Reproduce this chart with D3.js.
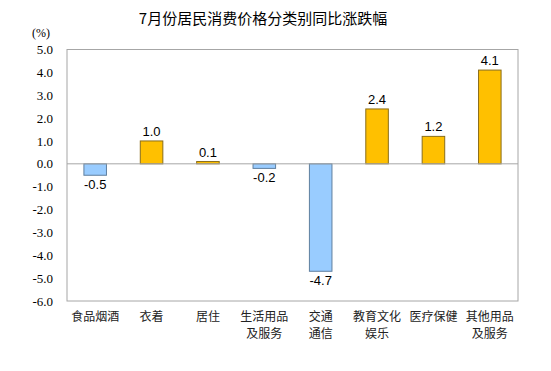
<!DOCTYPE html>
<html><head><meta charset="utf-8">
<script src="https://cdn.jsdelivr.net/npm/d3@7"></script>
<style>body{margin:0;background:#fff}
.serif{font-family:"Times New Roman","Liberation Serif","DejaVu Serif",serif}</style>
</head><body>
<script>
const categories = [["食品烟酒"],["衣着"],["居住"],["生活用品","及服务"],["交通","通信"],["教育文化","娱乐"],["医疗保健"],["其他用品","及服务"]];
const values = [-0.5, 1.0, 0.1, -0.2, -4.7, 2.4, 1.2, 4.1];
const yTicks = [5,4,3,2,1,0,-1,-2,-3,-4,-5,-6];
const title = "7月份居民消费价格分类别同比涨跌幅";
const unit = "(%)";

const fmt = d => d3.format(".1f")(d).replace("\u2212", "-");
const W = 551, H = 371;
const svg = d3.select("body").append("svg").attr("width", W).attr("height", H);
const pLeft = 67, pRight = 518, pTop = 49.5, pBottom = 301;
const x = d3.scaleBand().domain(d3.range(values.length)).range([pLeft, pRight]).paddingInner(0.6).paddingOuter(0.3);
const y = d3.scaleLinear().domain([-6, 5]).range([pBottom, pTop]);

svg.append("text").attr("x", 263).attr("y", 24).attr("text-anchor", "middle")
  .style("font-family", "'Noto Sans CJK SC'").style("font-size", "15px").attr("fill", "#000").text(title);
svg.append("text").attr("class", "serif").attr("x", 41).attr("y", 37).attr("text-anchor", "middle")
  .style("font-size", "12px").text(unit);

// frame
svg.append("rect").attr("x", pLeft).attr("y", y(5)).attr("width", pRight-pLeft).attr("height", y(-6)-y(5))
  .attr("fill", "none").attr("stroke", "#a6a6a6").attr("stroke-width", 1);

const ax = d3.axisLeft(y).tickValues(yTicks).tickFormat(fmt).tickSize(0).tickPadding(14);
const g = svg.append("g").attr("transform", `translate(${pLeft},0)`).call(ax);
g.select(".domain").remove();
g.attr("font-family", null).attr("font-size", null);
g.selectAll("text").attr("class", "serif").style("font-size", "13px").attr("fill", "#000");

svg.selectAll("rect.bar").data(values).enter().append("rect").attr("class","bar")
  .attr("x", (d,i) => x(i)).attr("width", x.bandwidth())
  .attr("y", d => y(Math.max(0,d))).attr("height", d => Math.abs(y(d)-y(0)))
  .attr("fill", d => d < 0 ? "#99CCFF" : "#FFC000")
  .attr("stroke", d => d < 0 ? "#5f7f9f" : "#8a6d1a").attr("stroke-width", 1);

// zero line
svg.append("line").attr("x1", pLeft).attr("x2", pRight).attr("y1", y(0)).attr("y2", y(0))
  .attr("stroke", "#a6a6a6").attr("stroke-width", 1);

svg.selectAll("text.val").data(values).enter().append("text").attr("class","val")
  .attr("x", (d,i) => x(i) + x.bandwidth()/2)
  .attr("y", d => d < 0 ? y(d) + 14 : y(d) - 5)
  .attr("text-anchor", "middle").style("font-family", "'Liberation Sans'").style("font-size", "13px")
  .text(fmt);

const cg = svg.selectAll("g.cat").data(categories).enter().append("g").attr("class","cat");
cg.each(function(lines, i){
  const cx = x(i) + x.bandwidth()/2;
  lines.forEach((t, j) => {
    d3.select(this).append("text").attr("x", cx)
      .attr("y", 321 + j*17).attr("text-anchor", "middle")
      .style("font-family", "'Noto Sans CJK SC'").style("font-size", "12px").attr("fill", "#222").text(t);
  });
});
</script>
</body></html>
